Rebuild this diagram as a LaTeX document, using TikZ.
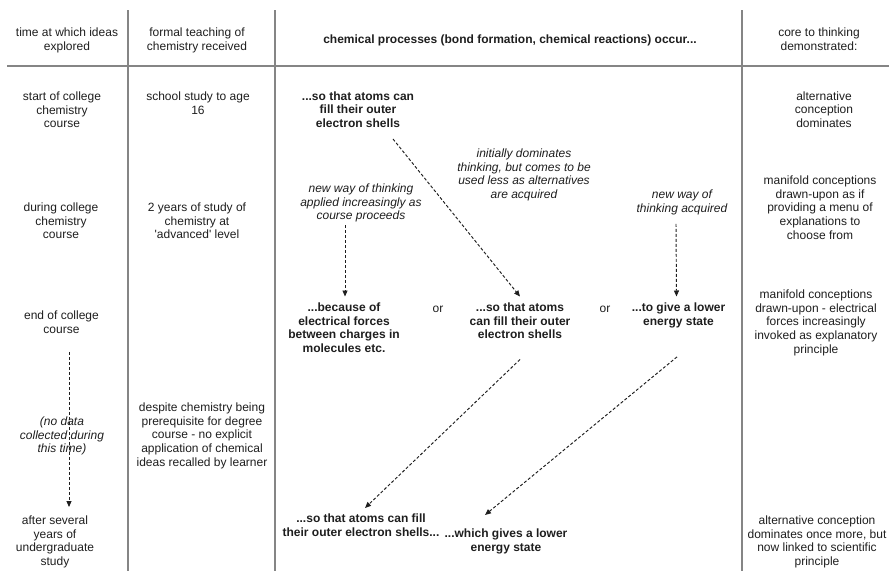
\documentclass[tikz,border=0pt]{standalone}
\usepackage{fontspec}
\setmainfont{Liberation Sans}
\usetikzlibrary{arrows.meta}
\definecolor{ink}{HTML}{1E1E1E}
\definecolor{rule}{HTML}{858585}
\begin{document}
\begin{tikzpicture}[x=1pt,y=-1pt,
  every node/.style={inner sep=0pt, outer sep=0pt, anchor=north, align=center, text=ink,
    yshift=-1.5pt, font=\fontsize{12}{13.6}\selectfont,
    execute at begin node=\strut, execute at end node=\strut},
  concept/.style={font=\fontsize{12}{13.6}\selectfont\bfseries},
  remark/.style={font=\fontsize{12}{13.6}\selectfont\itshape},
  grid/.style={draw=rule, line width=1.2pt},
  flow/.style={draw=ink, line width=0.95pt, dash pattern=on 3pt off 2pt,
    -{Triangle[length=6pt,width=5pt]}}]
\useasboundingbox (0,0) rectangle (889,571);

% table rules
\draw[grid] (128,10) -- (128,571);
\draw[grid] (275,10) -- (275,571);
\draw[grid] (742,10) -- (742,571);
\draw[grid] (7,66) -- (889,66);

% column headings
\node (h1) at (67,26.5) {time at which ideas\\explored};
\node (h2) at (197,26.5) {formal teaching of\\chemistry received};
\node[concept] (h3) at (510,32.5) {chemical processes (bond formation, chemical reactions) occur...};
\node (h4) at (819,26.5) {core to thinking\\demonstrated:};

% time column
\node (t1) at (62,90.5) {start of college\\chemistry\\course};
\node (t2) at (61,201.5) {during college\\chemistry\\course};
\node (t3) at (61.5,309.5) {end of college\\course};
\node[remark] (t4) at (62,415.5) {(no data\\collected during\\this time)};
\node (t5) at (55,514.5) {after several\\years of\\undergraduate\\study};

% teaching column
\node (f1) at (198,90.5) {school study to age\\16};
\node (f2) at (197,201.5) {2 years of study of\\chemistry at\\\textquotesingle advanced\textquotesingle{} level};
\node (f4) at (202,401.5) {despite chemistry being\\prerequisite for degree\\course - no explicit\\application of chemical\\ideas recalled by learner};

% explanations
\node[concept] (p1) at (358,90) {...so that atoms can\\fill their outer\\electron shells};
\node[remark] (i1) at (524,147.5) {initially dominates\\thinking, but comes to be\\used less as alternatives\\are acquired};
\node[remark] (i2) at (361,182.5) {new way of thinking\\applied increasingly as\\course proceeds};
\node[remark] (i3) at (682,188.5) {new way of\\thinking acquired};
\node[concept] (p2) at (344,301.5) {...because of\\electrical forces\\between charges in\\molecules etc.};
\node (or1) at (438,301.5) {or};
\node[concept] (p3) at (520,301.5) {...so that atoms\\can fill their outer\\electron shells};
\node (or2) at (605,301.5) {or};
\node[concept] (p4) at (678.5,301.5) {...to give a lower\\energy state};
\node[concept] (p5) at (361,512.5) {...so that atoms can fill\\their outer electron shells...};
\node[concept] (p6) at (506,527.5) {...which gives a lower\\energy state};

% core thinking column
\node (c1) at (824,90) {alternative\\conception\\dominates};
\node (c2) at (820,174.5) {manifold conceptions\\drawn-upon as if\\providing a menu of\\explanations to\\choose from};
\node (c3) at (816,288.5) {manifold conceptions\\drawn-upon - electrical\\forces increasingly\\invoked as explanatory\\principle};
\node (c5) at (817,514.5) {alternative conception\\dominates once more, but\\now linked to scientific\\principle};

% connectors between explanations
\draw[flow] ([shift={(35,7.5)}]p1.south) -- ([shift={(0,-6.5)}]p3.north);
\draw[flow] ([shift={(-16,1.5)}]i2.south) -- ([shift={(1,-6.5)}]p2.north);
\draw[flow] ([shift={(-6,7.5)}]i3.south) -- ([shift={(-2,-6.5)}]p4.north);
\draw[flow] ([shift={(0,16.5)}]p3.south) -- ([shift={(4,-6)}]p5.north);
\draw[flow] ([shift={(-1.5,27.5)}]p4.south) -- ([shift={(-21,-14)}]p6.north);
\draw[flow] ([shift={(7.5,14.5)}]t3.south) -- ([shift={(14,-9)}]t5.north);
\end{tikzpicture}
\end{document}
